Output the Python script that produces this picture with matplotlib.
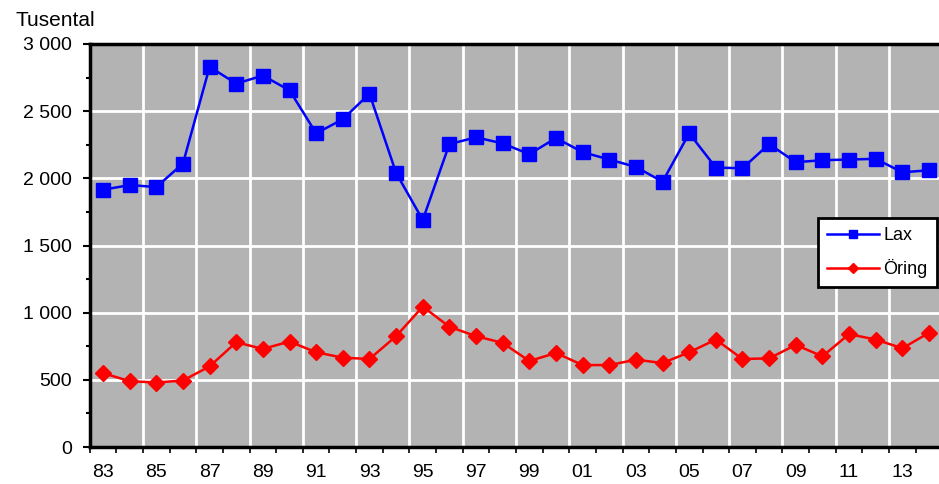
import numpy as np
import matplotlib
matplotlib.use("Agg")
import matplotlib.pyplot as plt
from matplotlib.ticker import FuncFormatter, MultipleLocator

plt.rcParams['font.family'] = ['Liberation Sans', 'DejaVu Sans']

# data (thousands)
years = list(range(1983, 2015))
lax = [1915, 1950, 1935, 2110, 2830, 2705, 2765, 2655, 2335, 2440,
       2630, 2040, 1690, 2255, 2305, 2260, 2180, 2300, 2195, 2140,
       2085, 1975, 2335, 2080, 2075, 2255, 2120, 2135, 2140, 2145,
       2045, 2060]
oring = [550, 490, 480, 495, 600, 780, 730, 785, 705, 665,
         655, 825, 1045, 895, 825, 775, 640, 700, 610, 610,
         650, 625, 705, 800, 655, 660, 760, 675, 840, 800,
         735, 850]
series_names = ['Lax', 'Öring']
y_label = 'Tusental'

fig = plt.figure(figsize=(9.39, 4.84), dpi=100)
ax = fig.add_axes([89.7 / 939, 1 - 447 / 484, 852.6 / 939, 403 / 484])
ax.set_facecolor('#b3b3b3')

x = np.arange(len(years))

# white grid: horizontal every 500, vertical every second category boundary
ax.yaxis.grid(True, color='white', linewidth=2, zorder=0)
for b in np.arange(1.5, len(years), 2):
    ax.axvline(b, color='white', linewidth=2, zorder=0)
ax.set_axisbelow(True)

ax.plot(x, lax, color='#0000ff', linewidth=1.8, marker='s', markersize=10,
        label=series_names[0], zorder=3)
ax.plot(x, oring, color='#ff0000', linewidth=1.8, marker='D', markersize=8,
        label=series_names[1], zorder=3)

ax.set_xlim(-0.5, len(years) - 0.5)
ax.set_ylim(0, 3000)

# x: labels at every second category centre, ticks at category boundaries
ax.set_xticks(x[::2])
ax.set_xticklabels([f'{y % 100:02d}' for y in years[::2]])
ax.set_xticks(np.arange(-0.5, len(years), 1), minor=True)
ax.tick_params(axis='x', which='major', length=0, pad=12, labelsize=14)
ax.tick_params(axis='x', which='minor', length=4.5, width=1.2, direction='out')

ax.yaxis.set_major_locator(MultipleLocator(500))
ax.yaxis.set_minor_locator(MultipleLocator(250))
ax.yaxis.set_major_formatter(FuncFormatter(lambda v, p: f'{int(v):,}'.replace(',', ' ')))
ax.tick_params(axis='y', which='major', length=5, width=1.5, direction='out',
               labelsize=14, pad=8)
ax.tick_params(axis='y', which='minor', length=3, width=1.5, direction='out')

for side in ['left', 'bottom', 'top']:
    ax.spines[side].set_linewidth(2.5)
    ax.spines[side].set_color('black')
ax.spines['right'].set_visible(False)

fig.text(15 / 939, 1 - 21 / 484, y_label, fontsize=15, ha='left', va='center')

leg = ax.legend(loc='upper right', bbox_to_anchor=(0.9935, 0.568), fontsize=13,
                markerscale=0.6, handlelength=2.9, fancybox=False, framealpha=1,
                edgecolor='black', borderpad=0.5, labelspacing=0.85,
                handletextpad=0.25, borderaxespad=0)
leg.get_frame().set_linewidth(2)

fig.savefig('out.png', dpi=100)
